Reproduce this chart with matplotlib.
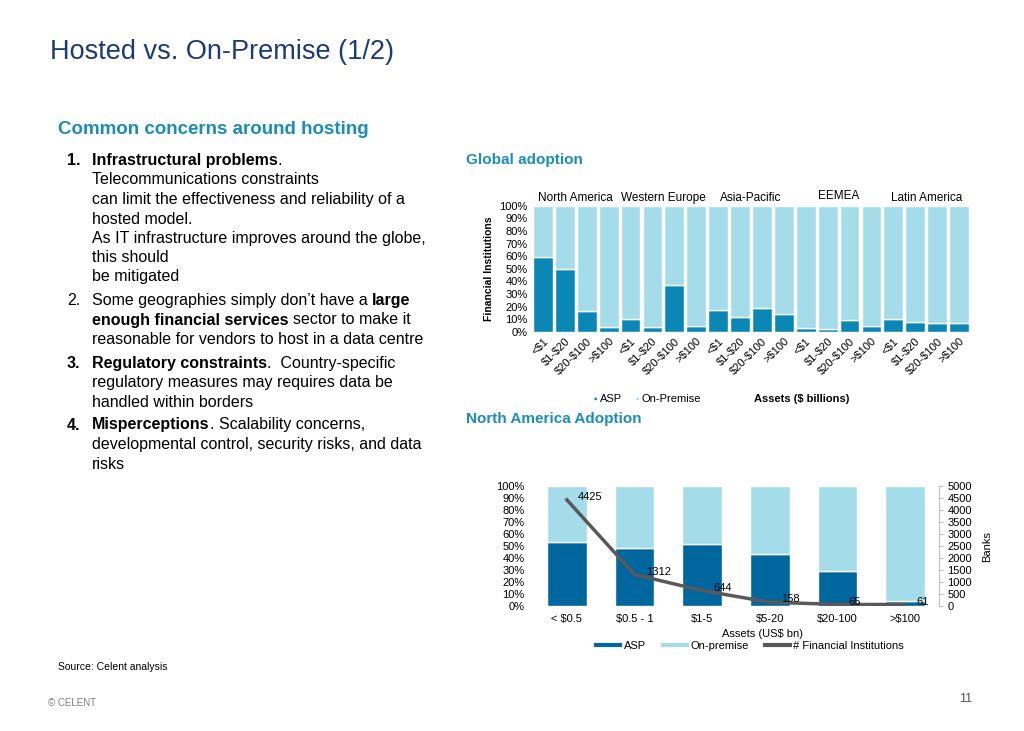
#!/usr/bin/env python3

import numpy as np
import matplotlib
matplotlib.use("Agg")
import matplotlib.pyplot as plt
from matplotlib.lines import Line2D

plt.rcParams['font.family'] = ['Liberation Sans', 'DejaVu Sans']
plt.rcParams['text.parse_math'] = False

# data: global adoption (share of ASP, %)
regions = ["North America", "Western Europe", "Asia-Pacific", "EEMEA", "Latin America"]
size_bands = ["<$1", "$1-$20", "$20-$100", ">$100"]
asp_global = [59, 50, 17, 3.7,
              10, 3.7, 37.5, 5,
              17.4, 11.6, 18.7, 14.5,
              3.4, 2.6, 9.2, 5,
              10.5, 8.2, 7.4, 7.4]

# data: north america adoption
na_cats = ["< $0.5", "$0.5 - 1", "$1-5", "$5-20", "$20-100", ">$100"]
na_asp = [53.5, 48.5, 51.8, 43.7, 29.5, 4.5]
na_banks = [4425, 1312, 644, 158, 65, 61]

# colours
navy = "#1b3a78"
teal = "#1a8dbb"
asp_col = "#0a87b5"
onp_col = "#a4dcea"
asp_col2 = "#00679e"
line_col = "#595959"

W, H = 1024, 731
fig = plt.figure(figsize=(W / 100, H / 100), dpi=100)
renderer = fig.canvas.get_renderer()


def fx(x):
    return x / W


def fy(y):
    return 1 - y / H


def rect(l, t, r, b):
    return [fx(l), fy(b), (r - l) / W, (b - t) / H]


### header text
fig.text(fx(50), fy(52), "Hosted vs. On-Premise (1/2)", fontsize=19.5, color=navy, va='center')
fig.text(fx(58), fy(129), "Common concerns around hosting", fontsize=13.5, color=teal,
         fontweight='bold', va='center')
fig.text(fx(466), fy(160), "Global adoption", fontsize=11, color=teal, fontweight='bold', va='center')
fig.text(fx(466), fy(419), "North America Adoption", fontsize=11, color=teal, fontweight='bold', va='center')

### bullet list (runs of regular / bold text)
fs = 11.5
space_px = 4.5
num_x, txt_x = 67, 92
lines = [
    (160.7, "1.", True, [("Infrastructural problems", True, False), (".", False, False)]),
    (180.0, None, False, [("Telecommunications constraints", False, False)]),
    (199.3, None, False, [("can limit the effectiveness and reliability of a", False, False)]),
    (219.0, None, False, [("hosted model.", False, False)]),
    (238.3, None, False, [("As IT infrastructure improves around the globe,", False, False)]),
    (257.7, None, False, [("this should", False, False)]),
    (276.7, None, False, [("be mitigated", False, False)]),
    (300.7, "2.", False, [("Some geographies simply don\u2019t have a", False, True), ("large", True, False)]),
    (320.0, None, False, [("enough financial services", True, True), ("sector to make it", False, False)]),
    (340.0, None, False, [("reasonable for vendors to host in a data centre", False, False)]),
    (363.3, "3.", True, [("Regulatory constraints", True, False), (".  Country-specific", False, False)]),
    (382.7, None, False, [("regulatory measures may requires data be", False, False)]),
    (402.3, None, False, [("handled within borders", False, False)]),
    (425.0, "4.", True, [("Misperceptions", True, False), (". Scalability concerns,", False, False)]),
    (445.0, None, False, [("developmental control, security risks, and data", False, False)]),
    (464.3, None, False, [("risks", False, False)]),
]
for y, num, num_bold, runs in lines:
    if num:
        fig.text(fx(num_x), fy(y), num, fontsize=fs, fontweight='bold' if num_bold else 'normal',
                 va='center', color='black')
    x = txt_x
    for txt, bold, gap in runs:
        t = fig.text(fx(x), fy(y), txt, fontsize=fs, fontweight='bold' if bold else 'normal',
                     va='center', color='black')
        bb = t.get_window_extent(renderer)
        x += bb.width + (space_px if gap else 0)

### plot 1: global adoption
ax1 = fig.add_axes(rect(532, 205.7, 970, 332))
n = len(asp_global)
xpos = np.arange(n)
asp_g = np.array(asp_global)
ax1.bar(xpos, asp_g, width=0.9, color=asp_col, edgecolor='white', linewidth=1)
ax1.bar(xpos, 100 - asp_g, bottom=asp_g, width=0.9, color=onp_col, edgecolor='white', linewidth=1)
ax1.set_xlim(-0.5, n - 0.5)
ax1.set_ylim(0, 100)
ax1.set_yticks(np.arange(0, 101, 10))
ax1.set_yticklabels([f"{v}%" for v in range(0, 101, 10)], fontsize=8)
ax1.set_xticks(xpos)
ax1.set_xticklabels(size_bands * len(regions), fontsize=8, rotation=45, ha='right',
                    rotation_mode='anchor')
ax1.tick_params(length=0, pad=3)
for s in ax1.spines.values():
    s.set_visible(False)
for i, reg in enumerate(regions):
    yoff = 103 if reg == "EEMEA" else 101
    ax1.text(i * 4 + 1.5, yoff, reg, fontsize=8.5, ha='center', va='bottom')
ax1.set_ylabel("Financial Institutions", fontsize=7.5, fontweight='bold', labelpad=4)

# legend row of plot 1
fig.text(fx(593), fy(399), "\u25aa", color=asp_col, fontsize=7, va='center')
fig.text(fx(600), fy(399), "ASP", fontsize=8, va='center')
fig.text(fx(635), fy(399), "\u25aa", color=onp_col, fontsize=7, va='center')
fig.text(fx(642), fy(399), "On-Premise", fontsize=8, va='center')
fig.text(fx(802), fy(399), "Assets ($ billions)", fontsize=8, fontweight='bold', va='center', ha='center')

### plot 2: north america adoption
ax2 = fig.add_axes(rect(533, 486, 939, 606))
m = len(na_cats)
xp = np.arange(m)
na_a = np.array(na_asp)
ax2.bar(xp, na_a, width=0.59, color=asp_col2, edgecolor='white', linewidth=1)
ax2.bar(xp, 100 - na_a, bottom=na_a, width=0.59, color=onp_col, edgecolor='white', linewidth=1)
ax2.set_xlim(-0.5, m - 0.5)
ax2.set_ylim(0, 100)
ax2.set_yticks(np.arange(0, 101, 10))
ax2.set_yticklabels([f"{v}%" for v in range(0, 101, 10)], fontsize=8)
ax2.set_xticks(xp)
ax2.set_xticklabels(na_cats, fontsize=8)
ax2.tick_params(length=0, pad=6)
for s in ax2.spines.values():
    s.set_visible(False)

ax3 = ax2.twinx()
ax3.plot(xp, na_banks, color=line_col, linewidth=2.5)
for xi, v in zip(xp, na_banks):
    ax3.annotate(str(v), (xi, v), xytext=(8, 2), textcoords='offset points', fontsize=8,
                 ha='left', va='center')
ax3.set_ylim(0, 5000)
ax3.set_yticks(np.arange(0, 5001, 500))
ax3.tick_params(axis='y', labelsize=8, length=3, color='#bfbfbf', pad=3)
for k, s in ax3.spines.items():
    s.set_visible(k == 'right')
ax3.spines['right'].set_color('#bfbfbf')
ax3.set_ylabel("Banks", fontsize=8, labelpad=7)

fig.text(fx(763), fy(634), "Assets (US$ bn)", fontsize=8, ha='center', va='center')

handles = [Line2D([], [], color=asp_col2, linewidth=3),
           Line2D([], [], color=onp_col, linewidth=3),
           Line2D([], [], color=line_col, linewidth=3)]
fig.legend(handles, ["ASP", "On-premise", "# Financial Institutions"], loc='center',
           bbox_to_anchor=(fx(750), fy(646)), ncol=3, frameon=False, fontsize=8,
           handlelength=2.2, handletextpad=0.3, columnspacing=1.5)

### footer
fig.text(fx(58), fy(667), "Source: Celent analysis", fontsize=7.5, va='center')
fig.text(fx(48), fy(703), "\u00a9 CELENT", fontsize=7, va='center', color='#7f7f7f')
fig.text(fx(966), fy(699), "11", fontsize=9, va='center', ha='center', color='#555555')

fig.savefig("out.png", dpi=100)
